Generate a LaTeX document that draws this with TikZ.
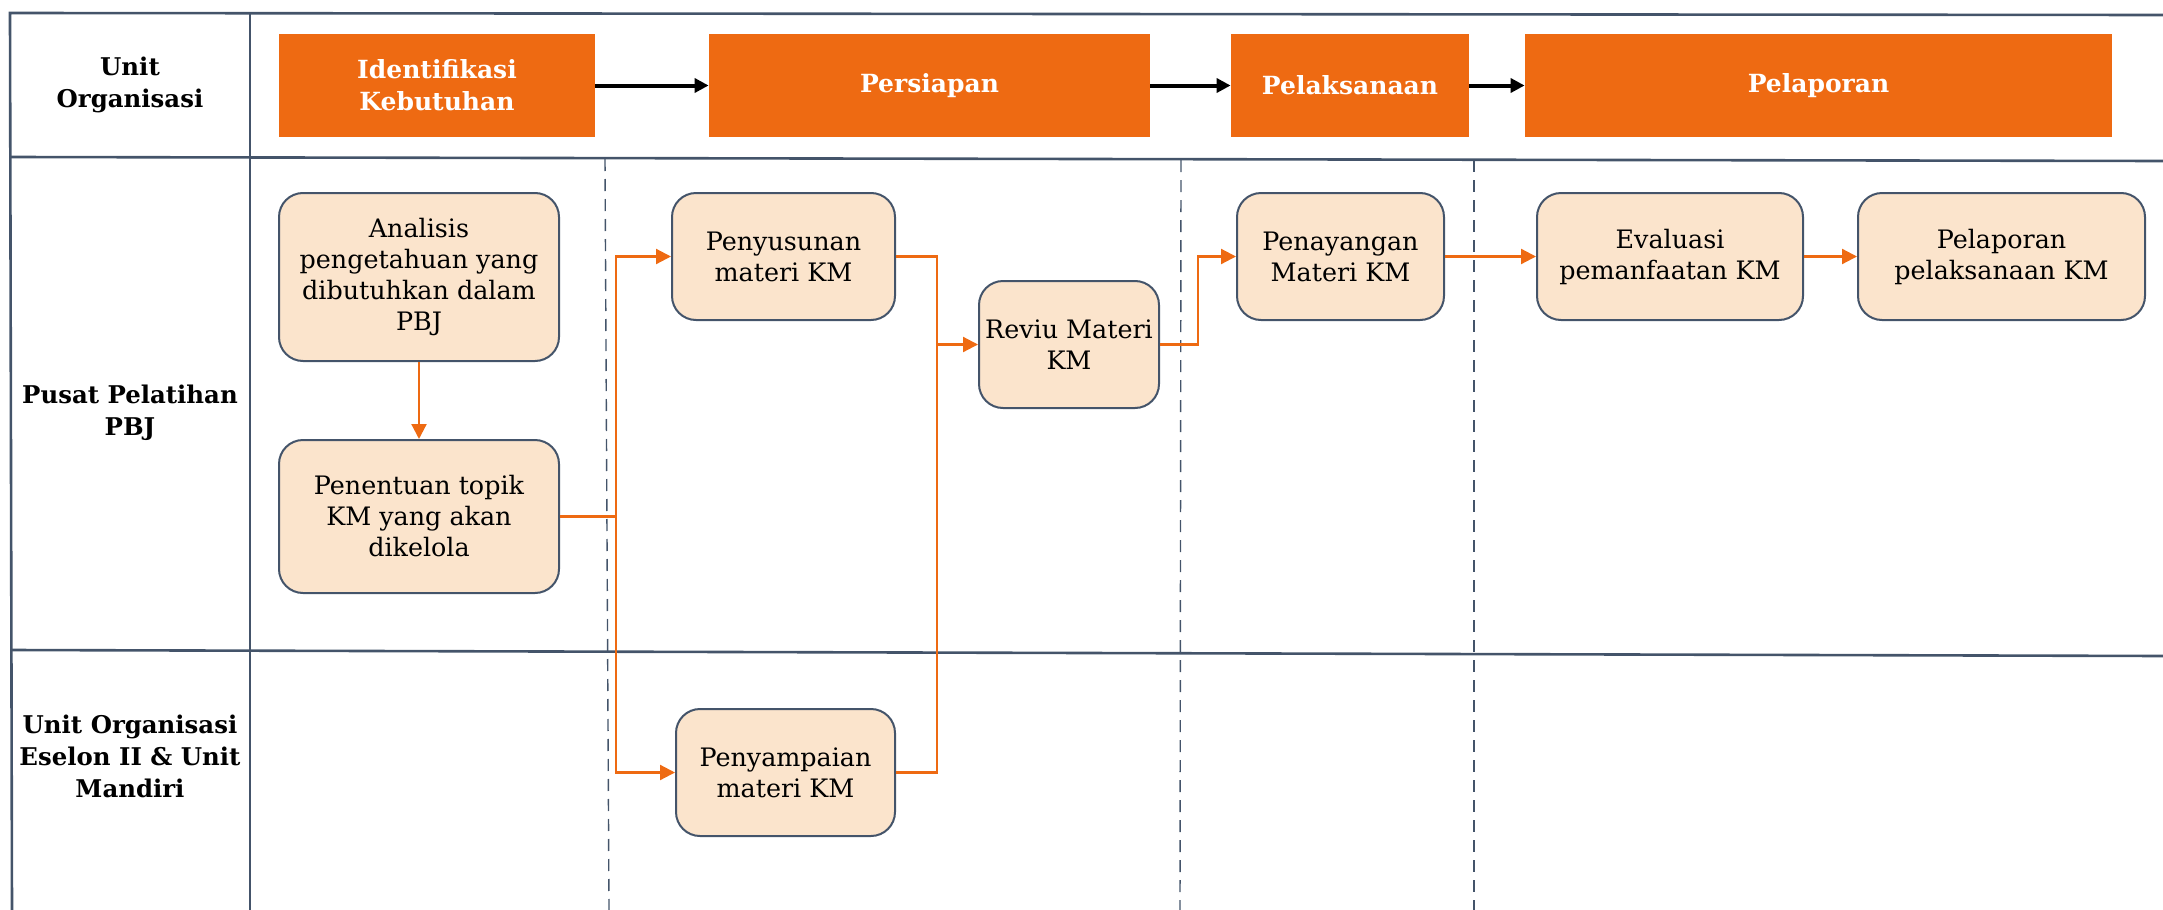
\documentclass[tikz,border=0pt]{standalone}
\usepackage{fontspec}
\setmainfont{DejaVu Serif}
\usetikzlibrary{arrows.meta}

\definecolor{kmorange}{HTML}{EE6A12}
\definecolor{kmpeach}{HTML}{FBE4CC}
\definecolor{kmslate}{HTML}{44546A}

\tikzset{
  grid line/.style={draw=kmslate, line width=1.3pt},
  lane split/.style={draw=kmslate, line width=0.7pt, dash pattern=on 6pt off 4pt},
  phase/.style={fill=kmorange, text=white, font=\bfseries\fontsize{12.5}{16}\selectfont,
    align=center, inner sep=0pt, minimum height=51.5pt},
  task/.style={draw=kmslate, line width=1pt, fill=kmpeach, rounded corners=12pt,
    align=center, inner sep=2pt, font=\fontsize{12.7}{15.5}\selectfont, minimum height=63.5pt},
  lanelabel/.style={align=center, font=\bfseries\fontsize{12.2}{16}\selectfont},
  flowline/.style={draw=kmorange, line width=1.1pt},
  flow/.style={flowline, -{Triangle[length=7.5pt,width=7.5pt]}},
  phaseflow/.style={draw=black, line width=2pt, -{Triangle[length=7pt,width=7pt]}},
}

\begin{document}
\begin{tikzpicture}[x=0.5pt,y=-0.5pt]
\useasboundingbox (0,0) rectangle (2163,910);

% swimlane grid
\draw[grid line] (2163,15) -- (10,13) -- (12,910);
\draw[grid line] (250,13) -- (250,910);
\draw[grid line] (10,157) -- (2163,161);
\draw[grid line] (11,650) -- (2163,656);

% phase separators
\draw[lane split] (605,159) -- (609,910);
\draw[lane split] (1181,160) -- (1180,910);
\draw[lane split] (1474,160) -- (1474,910);

% lane labels
\node[lanelabel] (l0) at (130,85) {Unit\\Organisasi};
\node[lanelabel] (l1) at (130,413) {Pusat Pelatihan\\PBJ};
\node[lanelabel] (l2) at (130,756) {Unit Organisasi\\Eselon II \& Unit\\Mandiri};

% phases
\node[phase, minimum width=158pt]   (p1) at (437,85.5)    {Identifikasi\\Kebutuhan};
\node[phase, minimum width=220.5pt] (p2) at (929.5,85.5)  {Persiapan};
\node[phase, minimum width=119pt]   (p3) at (1350,85.5)   {Pelaksanaan};
\node[phase, minimum width=293.5pt] (p4) at (1818.5,85.5) {Pelaporan};

\draw[phaseflow] (p1) -- (p2);
\draw[phaseflow] (p2) -- (p3);
\draw[phaseflow] (p3) -- (p4);

% tasks
\node[task, minimum width=140pt, minimum height=84pt]   (ana) at (419,277)    {Analisis\\pengetahuan yang\\dibutuhkan dalam\\PBJ};
\node[task, minimum width=140pt, minimum height=76.5pt] (pen) at (419,516.5)  {Penentuan topik\\KM yang akan\\dikelola};
\node[task, minimum width=111.5pt] (sus) at (783.5,256.5)  {Penyusunan\\materi KM};
\node[task, minimum width=90pt]    (rev) at (1069,344.5)   {Reviu Materi\\KM};
\node[task, minimum width=109.5pt] (sam) at (785.5,772.5)  {Penyampaian\\materi KM};
\node[task, minimum width=103.5pt] (tay) at (1340.5,256.5) {Penayangan\\Materi KM};
\node[task, minimum width=133pt]   (eva) at (1670,256.5)   {Evaluasi\\pemanfaatan KM};
\node[task, minimum width=143.5pt] (lap) at (2001.5,256.5) {Pelaporan\\pelaksanaan KM};

% flows
\coordinate (fork)  at (616,516.5);
\coordinate (merge) at (937,344.5);
\coordinate (turn)  at (1198,344.5);

\draw[flow] (ana) -- (pen);
\draw[flowline] (pen.east) -- (fork);
\draw[flow] (fork) |- (sus.west);
\draw[flow] (fork) |- (sam.west);
\draw[flowline] (sus.east) -| (merge);
\draw[flowline] (sam.east) -| (merge);
\draw[flow] (merge) -- (rev.west);
\draw[flow] (rev.east) -- (turn) |- (tay.west);
\draw[flow] (tay.east) -- (eva.west);
\draw[flow] (eva.east) -- (lap.west);
\end{tikzpicture}
\end{document}
